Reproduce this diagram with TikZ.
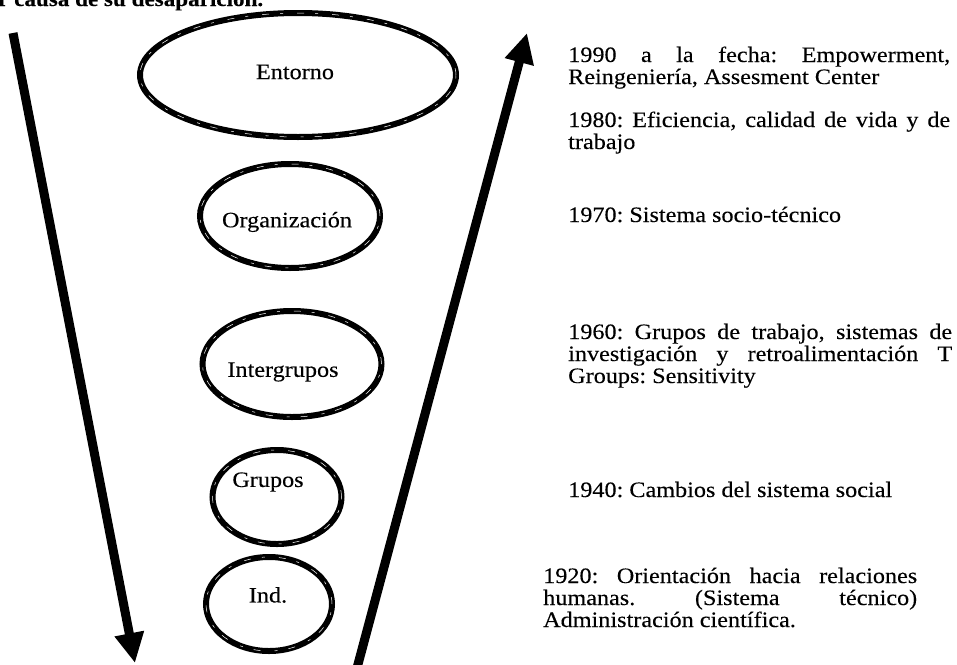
\documentclass[tikz,border=0pt]{standalone}
\usepackage{fontspec}
\setmainfont[FakeStretch=1.1,FakeBold=0.2]{Liberation Serif}
\usetikzlibrary{arrows.meta,shapes.geometric}
\frenchspacing

\begin{document}
\begin{tikzpicture}[x=1pt,y=-1pt,
  every node/.style={inner sep=0pt, font=\fontsize{22}{22}\selectfont},
  stage/.style={draw=black, line width=6pt, ellipse, fill=none,
    postaction={draw=white, line width=0.5pt, dash pattern=on 7pt off 14pt on 3pt off 11pt}},
  lbl/.style={anchor=center},
  era/.style={anchor=base west},
  bigarrow/.style={line width=9pt, -{Triangle[length=30pt,width=28pt]}}
]
\useasboundingbox (0,0) rectangle (957,664);

% heading line, partly outside the page
\node[anchor=base west, font=\fontsize{21}{22}\selectfont\bfseries] (head) at (-2,6) {r causa de su desaparición.};

% levels of analysis
\node[stage, minimum width=316pt, minimum height=124pt] (ent) at (298,75) {};
\node[stage, minimum width=180pt, minimum height=104pt] (org) at (290,216) {};
\node[stage, minimum width=179pt, minimum height=106pt] (intg) at (292,364) {};
\node[stage, minimum width=129pt, minimum height=94pt] (grp) at (277,497) {};
\node[stage, minimum width=126pt, minimum height=94pt] (ind) at (269,604) {};

\node[lbl] (tent) at (295,72) {Entorno};
\node[lbl] (torg) at (287,222) {Organización};
\node[lbl] (tint) at (283,372) {Intergrupos};
\node[lbl] (tgrp) at (268,482) {Grupos};
\node[lbl] (tind) at (268,595) {Ind.};

% arrows framing the funnel
\coordinate (la) at (13,33);
\coordinate (lb) at (135,663);
\coordinate (ra) at (357,668);
\coordinate (rb) at (527,33);
\draw[bigarrow] (la) -- (lb);
\draw[bigarrow] (ra) -- (rb);

% historical stages
\node[era] (e1990) at (568,62) {\parbox[t]{382pt}{1990 a la fecha: Empowerment,\linebreak Reingeniería, Assesment Center}};
\node[era] (e1980) at (568,127) {\parbox[t]{382pt}{1980: Eficiencia, calidad de vida y de\linebreak trabajo}};
\node[era] (e1970) at (568,222) {1970: Sistema socio-técnico};
\node[era] (e1960) at (568,339) {\parbox[t]{384pt}{1960: Grupos de trabajo, sistemas de\linebreak investigación y retroalimentación T\linebreak Groups: Sensitivity}};
\node[era] (e1940) at (568,497) {1940: Cambios del sistema social};
\node[era] (e1920) at (543,583) {\parbox[t]{374pt}{1920: Orientación hacia relaciones\linebreak humanas. (Sistema técnico)\linebreak Administración científica.}};
\end{tikzpicture}
\end{document}
